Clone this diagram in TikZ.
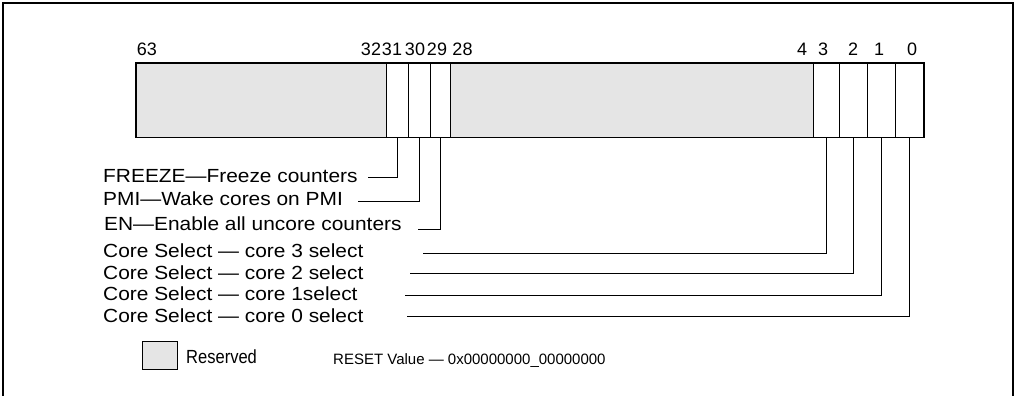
\documentclass[tikz,border=0pt]{standalone}
\usepackage{fontspec}
\setmainfont{Liberation Sans}
\newfontfamily\lblfont[FakeStretch=1.1]{Liberation Sans}
\newfontfamily\keyfont[FakeStretch=0.87]{Liberation Sans}
\usetikzlibrary{positioning}
\definecolor{resgray}{RGB}{229,229,229}

\tikzset{
    field/.style={draw, line width=0.9pt, rectangle, inner sep=0pt, minimum height=73.5pt, anchor=north west},
    resfield/.style={field, fill=resgray},
    bitnum/.style={anchor=base, inner sep=0pt, font=\fontsize{18}{20}\selectfont},
    lbl/.style={anchor=base west, inner sep=0pt, font=\lblfont\fontsize{19}{22}\selectfont},
    leader/.style={line width=0.9pt},
}

\begin{document}
\begin{tikzpicture}[x=1pt, y=-1pt]
    \useasboundingbox (0,0) rectangle (1015,396);

    % Outer frame, open at the bottom
    \draw[line width=2pt] (3,400) -- (3,3) -- (1013,3) -- (1013,400);

    % Register fields
    \node[resfield, minimum width=250pt] (r63) at (135.7,63) {};
    \node[field, minimum width=22.3pt] (b31) at (385.7,63) {};
    \node[field, minimum width=22pt] (b30) at (408,63) {};
    \node[field, minimum width=20pt] (b29) at (430,63) {};
    \node[resfield, minimum width=362.7pt] (r28) at (450,63) {};
    \node[field, minimum width=26pt] (b3) at (812.7,63) {};
    \node[field, minimum width=28.3pt] (b2) at (838.7,63) {};
    \node[field, minimum width=28pt] (b1) at (867,63) {};
    \node[field, minimum width=28.3pt] (b0) at (895,63) {};
    \draw[line width=1.6pt] (r63.north west) rectangle (b0.south east);

    % Bit numbers
    \node[bitnum] (n63) at (147,56) {63};
    \node[bitnum] (n32) at (371,56) {32};
    \node[bitnum] (n31) at (392,56) {31};
    \node[bitnum] (n30) at (415,56) {30};
    \node[bitnum] (n29) at (437,56) {29};
    \node[bitnum] (n28) at (462.5,56) {28};
    \node[bitnum] (n4) at (802,56) {4};
    \node[bitnum] (n3) at (823,56) {3};
    \node[bitnum] (n2) at (853,56) {2};
    \node[bitnum] (n1) at (879,56) {1};
    \node[bitnum] (n0) at (912,56) {0};

    % Field descriptions
    \node[lbl] (fz) at (103,182) {FREEZE—Freeze counters};
    \node[lbl] (pmi) at (103,205) {PMI—Wake cores on PMI};
    \node[lbl] (en) at (104,230) {EN—Enable all uncore counters};
    \node[lbl] (cs3) at (103,257) {Core Select — core 3 select};
    \node[lbl] (cs2) at (103,279) {Core Select — core 2 select};
    \node[lbl] (cs1) at (103,300) {Core Select — core 1select};
    \node[lbl] (cs0) at (103,322) {Core Select — core 0 select};

    % Leader ends
    \coordinate (fzend) at (368,177);
    \coordinate (pmiend) at (358,201);
    \coordinate (enend) at (418,229);
    \coordinate (cs3end) at (423,253);
    \coordinate (cs2end) at (410,273);
    \coordinate (cs1end) at (405,295);
    \coordinate (cs0end) at (407,316);

    % Leaders
    \draw[leader] (b31.south) |- (fzend);
    \draw[leader] (b30.south) |- (pmiend);
    \draw[leader] (b29.south) |- (enend);
    \draw[leader] (b3.south) |- (cs3end);
    \draw[leader] (b2.south) |- (cs2end);
    \draw[leader] (b1.south) |- (cs1end);
    \draw[leader] (b0.south) |- (cs0end);

    % Legend
    \node[draw, fill=resgray, line width=0.8pt, minimum width=35pt, minimum height=28pt, inner sep=0pt] (key) at (159.5,355) {};
    \node[anchor=base west, inner sep=0pt, font=\keyfont\fontsize{19}{22}\selectfont] (keytxt) at (186,363) {Reserved};
    \node[anchor=base west, inner sep=0pt, font=\fontsize{15}{18}\selectfont] (rst) at (333,364) {RESET Value — 0x00000000\_00000000};
\end{tikzpicture}
\end{document}
